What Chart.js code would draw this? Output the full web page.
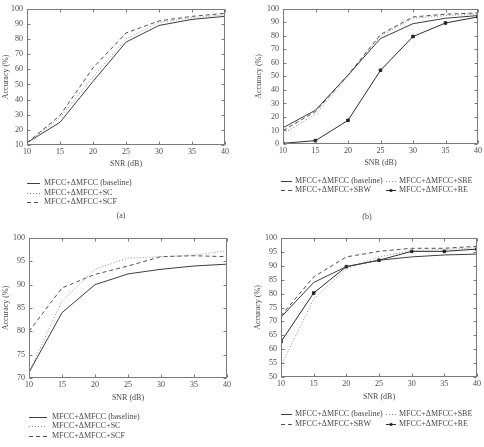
<!DOCTYPE html>
<html>
<head>
<meta charset="utf-8">
<script src="https://cdn.jsdelivr.net/npm/chart.js@4.4.0/dist/chart.umd.min.js"></script>
<style>
  html, body { margin: 0; padding: 0; background: #fff; }
  canvas { position: absolute; }
</style>
</head>
<body>
<canvas id="chartA" width="242" height="224" style="left:0;top:0"></canvas>
<canvas id="chartB" width="242" height="224" style="left:242px;top:0"></canvas>
<canvas id="chartC" width="242" height="223" style="left:0;top:224px"></canvas>
<canvas id="chartD" width="242" height="223" style="left:242px;top:224px"></canvas>
<script>
// SNR levels (dB)
const snr = [10, 15, 20, 25, 30, 35, 40];

// (a) accuracy, 0..100 range
const aBaseline = [11.5, 25, 52, 78, 89, 93, 95];
const aSC = [11.5, 28, 55, 80, 91, 94, 96];
const aSCF = [11.5, 29.5, 61, 84, 92, 95, 97];

// (b)
const bBaseline = [12, 25, 51, 78, 89, 93, 95];
const bSBW = [10, 24, 51, 81, 94, 96, 97];
const bSBE = [7.5, 22, 50, 80, 93, 95, 96];
const bRE = [0.5, 2.5, 17.5, 54.5, 79.5, 89.5, 94];

// (c)
const cBaseline = [71.2, 84, 90, 92.3, 93.3, 94, 94.4];
const cSC = [71.2, 86.5, 93.3, 95.7, 96, 96.3, 97.3];
const cSCF = [80, 89.3, 92.2, 94, 96, 96.2, 96];

// (d)
const dBaseline = [71.5, 84, 89.7, 92, 93.2, 93.9, 94.2];
const dSBW = [72, 86, 93.2, 95.2, 96.3, 96.3, 97];
const dSBE = [54, 78, 89, 93.2, 95.5, 95.8, 96.5];
const dRE = [62.7, 80.2, 89.7, 92, 95.2, 95.2, 96];

const nameBaseline = "MFCC+\u0394MFCC (baseline)";
const nameSC = "MFCC+\u0394MFCC+SC";
const nameSCF = "MFCC+\u0394MFCC+SCF";
const nameSBW = "MFCC+\u0394MFCC+SBW";
const nameSBE = "MFCC+\u0394MFCC+SBE";
const nameRE = "MFCC+\u0394MFCC+RE";

const FONT = "'Liberation Serif', 'DejaVu Serif', serif";
const textColor = "#4a4a4a";
const axisColor = "#7a7a7a";

const pts = (arr) => snr.map((x, i) => ({ x: x, y: arr[i] }));

const solid = (label, arr) => ({
  label, data: pts(arr), borderColor: "#3e3e3e", borderWidth: 1, pointRadius: 0
});
const dotted = (label, arr) => ({
  label, data: pts(arr), borderColor: "#8c8c8c", borderWidth: 1, borderDash: [1, 2], pointRadius: 0
});
const dashed = (label, arr) => ({
  label, data: pts(arr), borderColor: "#505050", borderWidth: 1, borderDash: [4, 3], pointRadius: 0
});
const marked = (label, arr) => ({
  label, data: pts(arr), borderColor: "#2e2e2e", borderWidth: 1, pointRadius: 1.8,
  pointStyle: "rect", pointBackgroundColor: "#222", pointBorderColor: "#222"
});

// box around plot, inward ticks, legend and caption
const framePlugin = {
  id: "frame",
  afterDraw(chart, args, opts) {
    const { ctx, chartArea: a, scales } = chart;
    ctx.save();
    ctx.strokeStyle = axisColor;
    ctx.lineWidth = 1;
    const L = Math.round(a.left) + 0.5, R = Math.round(a.right) - 0.5;
    const T = Math.round(a.top) + 0.5, B = Math.round(a.bottom) - 0.5;
    ctx.strokeRect(L, T, R - L, B - T);
    ctx.beginPath();
    scales.x.ticks.forEach(t => {
      const px = Math.round(scales.x.getPixelForValue(t.value)) + 0.5;
      ctx.moveTo(px, B); ctx.lineTo(px, B - 3);
      ctx.moveTo(px, T); ctx.lineTo(px, T + 3);
    });
    scales.y.ticks.forEach(t => {
      const py = Math.round(scales.y.getPixelForValue(t.value)) + 0.5;
      ctx.moveTo(L, py); ctx.lineTo(L + 3, py);
      ctx.moveTo(R, py); ctx.lineTo(R - 3, py);
    });
    ctx.stroke();

    ctx.font = "8px " + FONT;
    ctx.textBaseline = "middle";
    (opts.items || []).forEach(it => {
      const ds = chart.data.datasets[it.ds];
      ctx.strokeStyle = ds.borderColor;
      ctx.setLineDash(ds.borderDash || []);
      ctx.beginPath();
      ctx.moveTo(it.x0, it.y + 0.5);
      ctx.lineTo(it.x1, it.y + 0.5);
      ctx.stroke();
      ctx.setLineDash([]);
      if (ds.pointRadius) {
        ctx.fillStyle = ds.pointBackgroundColor;
        ctx.fillRect((it.x0 + it.x1) / 2 - 1.3, it.y - 0.8, 2.6, 2.6);
      }
      ctx.fillStyle = textColor;
      ctx.textAlign = "left";
      ctx.fillText(ds.label, it.tx, it.y);
    });
    if (opts.caption) {
      ctx.fillStyle = textColor;
      ctx.textAlign = "center";
      ctx.fillText(opts.caption.text, opts.caption.x, opts.caption.y);
    }
    ctx.restore();
  }
};

function makeChart(id, datasets, yr, box, legend) {
  return new Chart(document.getElementById(id), {
    type: "line",
    data: { datasets },
    options: {
      responsive: false,
      animation: false,
      layout: { padding: { left: box.pl, right: box.pr, top: box.pt, bottom: box.pb } },
      plugins: { legend: { display: false }, tooltip: { enabled: false }, frame: legend },
      scales: {
        x: {
          type: "linear", min: 10, max: 40,
          afterFit: s => { s.height = box.xh; },
          grid: { display: false, drawTicks: false },
          border: { display: false },
          ticks: { stepSize: 5, padding: 2, color: textColor, font: { family: FONT, size: 8 } },
          title: { display: true, text: "SNR (dB)", color: textColor, padding: 0, font: { family: FONT, size: 8 } }
        },
        y: {
          min: yr[0], max: yr[1],
          afterFit: s => { s.width = box.yw; },
          grid: { display: false, drawTicks: false },
          border: { display: false },
          ticks: { stepSize: yr[2], padding: 4, color: textColor, font: { family: FONT, size: 8 } },
          title: { display: true, text: "Accuracy (%)", color: textColor, padding: { top: box.tp, bottom: 0 }, font: { family: FONT, size: 8 } }
        }
      }
    },
    plugins: [framePlugin]
  });
}

makeChart("chartA",
  [solid(nameBaseline, aBaseline), dotted(nameSC, aSC), dashed(nameSCF, aSCF)],
  [10, 100, 10],
  { pl: 0, pr: 17, pt: 5, pb: 55, xh: 24, yw: 27, tp: 1 },
  { items: [
      { ds: 0, x0: 27, x1: 40, tx: 44, y: 183 },
      { ds: 1, x0: 27, x1: 40, tx: 44, y: 193 },
      { ds: 2, x0: 27, x1: 40, tx: 44, y: 202 }],
    caption: { text: "(a)", x: 121, y: 216 } });

makeChart("chartB",
  [solid(nameBaseline, bBaseline), dashed(nameSBW, bSBW), dotted(nameSBE, bSBE), marked(nameRE, bRE)],
  [0, 100, 10],
  { pl: 10, pr: 6, pt: 5, pb: 56, xh: 24, yw: 31, tp: 2 },
  { items: [
      { ds: 0, x0: 39, x1: 50, tx: 53, y: 181 },
      { ds: 1, x0: 39, x1: 50, tx: 53, y: 190 },
      { ds: 2, x0: 144, x1: 154, tx: 157, y: 181 },
      { ds: 3, x0: 144, x1: 154, tx: 157, y: 190 }],
    caption: { text: "(b)", x: 125, y: 217 } });

makeChart("chartC",
  [solid(nameBaseline, cBaseline), dotted(nameSC, cSC), dashed(nameSCF, cSCF)],
  [70, 100, 5],
  { pl: 0, pr: 15, pt: 14, pb: 44, xh: 25, yw: 29, tp: 1 },
  { items: [
      { ds: 0, x0: 29, x1: 47, tx: 52, y: 193 },
      { ds: 1, x0: 29, x1: 47, tx: 52, y: 202 },
      { ds: 2, x0: 29, x1: 47, tx: 52, y: 212 }] });

makeChart("chartD",
  [solid(nameBaseline, dBaseline), dashed(nameSBW, dSBW), dotted(nameSBE, dSBE), marked(nameRE, dRE)],
  [50, 100, 5],
  { pl: 10, pr: 7, pt: 14, pb: 45, xh: 25, yw: 29, tp: 1 },
  { items: [
      { ds: 0, x0: 39, x1: 50, tx: 53, y: 190 },
      { ds: 1, x0: 39, x1: 50, tx: 53, y: 200 },
      { ds: 2, x0: 144, x1: 154, tx: 157, y: 190 },
      { ds: 3, x0: 144, x1: 154, tx: 157, y: 200 }] });
</script>
</body>
</html>
